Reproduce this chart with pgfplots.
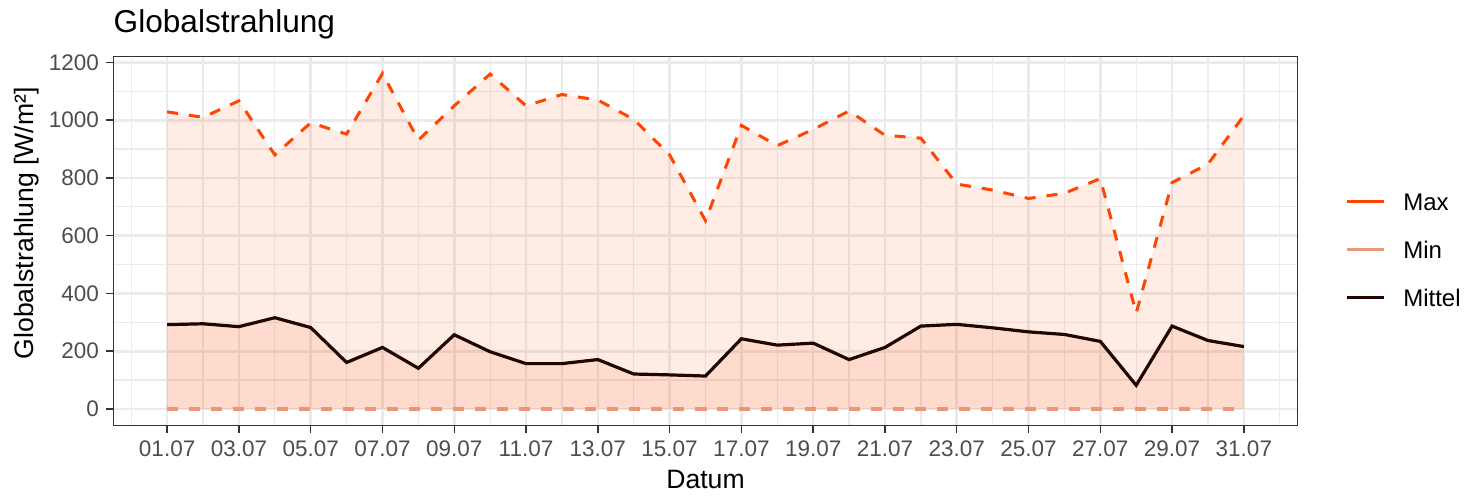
\documentclass[border=0pt]{standalone}
\usepackage{fontspec}
\setmainfont{Liberation Sans}
\usepackage{pgfplots}
\pgfplotsset{compat=1.18}
\definecolor{maxc}{HTML}{FF4500}
\definecolor{minc}{HTML}{E9967A}
\definecolor{meanc}{HTML}{1E0800}
\definecolor{gridc}{HTML}{EBEBEB}
\definecolor{borderc}{HTML}{333333}
\definecolor{tickc}{HTML}{4D4D4D}
\begin{document}
\begin{tikzpicture}
\useasboundingbox (-56.65bp,-36.15bp) rectangle (682.85bp,212.85bp);
\begin{axis}[
  scale only axis,
  width=592.2bp, height=184.5bp,
  xmin=-0.5, xmax=32.5, ymin=-58, ymax=1220,
  xtick={1,3,...,31},
  xticklabels={01.07,03.07,05.07,07.07,09.07,11.07,13.07,15.07,17.07,19.07,21.07,23.07,25.07,27.07,29.07,31.07},
  minor xtick={0,2,...,32},
  ytick={0,200,...,1200},
  minor ytick={100,300,...,1100},
  grid=both,
  major grid style={draw=gridc, line width=1.3bp},
  minor grid style={draw=gridc, line width=0.65bp},
  axis line style={draw=borderc, line width=0.75bp},
  tick align=outside,
  xtick pos=bottom, ytick pos=left,
  major tick length=3.85bp, minor tick length=0pt,
  tick style={draw=borderc, line width=0.75bp},
  /pgf/number format/assume math mode=true,
  /pgf/number format/1000 sep={},
  ticklabel style={font=\fontsize{11.25bp}{13bp}\selectfont, text=tickc, inner sep=0pt},
  xticklabel style={anchor=base, yshift=-11.65bp},
  yticklabel style={anchor=east, xshift=-3.15bp},
  title={Globalstrahlung},
  every axis title/.style={at={([yshift=12.2bp]axis description cs:0,1)}, anchor=base west, inner sep=0pt, font=\fontsize{15.8bp}{18bp}\selectfont},
  xlabel={Datum},
  xlabel style={at={([yshift=-31.2bp]axis description cs:0.5,0)}, anchor=base, inner sep=0pt, font=\fontsize{13.3bp}{15bp}\selectfont},
  ylabel={Globalstrahlung [W/m²]},
  ylabel style={at={([xshift=-40bp,yshift=9bp]axis description cs:0,0.5)}, anchor=base, inner sep=0pt, font=\fontsize{13.3bp}{15bp}\selectfont},
  legend style={at={([xshift=23.5bp,yshift=-5.1bp]axis description cs:1,0.5)}, anchor=west, draw=none, fill=none, inner sep=0pt, row sep=13.8bp, column sep=9bp,
    font=\fontsize{12bp}{14bp}\selectfont, nodes={inner sep=0pt, anchor=base west}},
  legend cell align=left,
  legend image code/.code={\draw[#1, solid] (0bp,4.3bp) -- (18.5bp,4.3bp);},
]
% ribbons (Min = 0)
\addplot[draw=none, fill=maxc, fill opacity=0.1, forget plot] coordinates {
(1,1029)(2,1010)(3,1067)(4,880)(5,991)(6,952)(7,1162)(8,931)(9,1050)(10,1160)
(11,1050)(12,1089)(13,1070)(14,1003)(15,880)(16,652)(17,982)(18,912)(19,968)(20,1032)
(21,948)(22,938)(23,779)(24,758)(25,729)(26,747)(27,798)(28,332)(29,784)(30,848)(31,1016)
} \closedcycle;
\addplot[draw=none, fill=maxc, fill opacity=0.1, forget plot] coordinates {
(1,292)(2,295)(3,285)(4,316)(5,282)(6,161)(7,213)(8,141)(9,257)(10,198)
(11,157)(12,157)(13,171)(14,121)(15,118)(16,114)(17,243)(18,221)(19,228)(20,171)
(21,213)(22,287)(23,293)(24,281)(25,267)(26,258)(27,234)(28,82)(29,287)(30,237)(31,216)
} \closedcycle;
% Max
\addplot[maxc, line width=1.5bp, dash pattern=on 5.5bp off 5.5bp] coordinates {
(1,1029)(2,1010)(3,1067)(4,880)(5,991)(6,952)(7,1162)(8,931)(9,1050)(10,1160)
(11,1050)(12,1089)(13,1070)(14,1003)(15,880)(16,652)(17,982)(18,912)(19,968)(20,1032)
(21,948)(22,938)(23,779)(24,758)(25,729)(26,747)(27,798)(28,332)(29,784)(30,848)(31,1016)
};
\addlegendentry{Max}
% Min
\addplot[minc, line width=1.6bp, dash pattern=on 5.5bp off 5.5bp] coordinates {
(1,0)(2,0)(3,0)(4,0)(5,0)(6,0)(7,0)(8,0)(9,0)(10,0)
(11,0)(12,0)(13,0)(14,0)(15,0)(16,0)(17,0)(18,0)(19,0)(20,0)
(21,0)(22,0)(23,0)(24,0)(25,0)(26,0)(27,0)(28,0)(29,0)(30,0)(31,0)
};
\addlegendentry{Min}
% Mittel
\addplot[meanc, line width=1.6bp] coordinates {
(1,292)(2,295)(3,285)(4,316)(5,282)(6,161)(7,213)(8,141)(9,257)(10,198)
(11,157)(12,157)(13,171)(14,121)(15,118)(16,114)(17,243)(18,221)(19,228)(20,171)
(21,213)(22,287)(23,293)(24,281)(25,267)(26,258)(27,234)(28,82)(29,287)(30,237)(31,216)
};
\addlegendentry{Mittel}
\end{axis}
\end{tikzpicture}
\end{document}
